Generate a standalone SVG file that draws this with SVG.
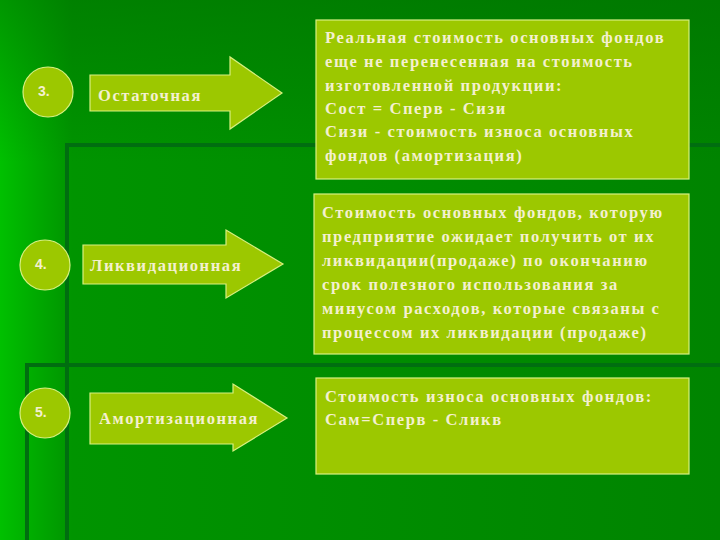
<svg xmlns="http://www.w3.org/2000/svg" width="720" height="540" viewBox="0 0 720 540">
<defs>
<linearGradient id="bg" x1="0" y1="0" x2="1" y2="0">
<stop offset="0" stop-color="#00c000"/><stop offset="0.1" stop-color="#009400"/><stop offset="1" stop-color="#008400"/>
</linearGradient>
<linearGradient id="bgv" x1="0" y1="0" x2="0" y2="1">
<stop offset="0" stop-color="#006e00" stop-opacity="0.5"/><stop offset="0.3" stop-color="#006e00" stop-opacity="0"/>
</linearGradient>
</defs>
<style>
.s{fill:#9cc800;stroke:#d8f080;stroke-width:1.2}
.t{font-family:"Liberation Serif",serif;font-size:16.5px;font-weight:bold;letter-spacing:1.6px;fill:#f4f0d0}
.n{font-family:"Liberation Sans",sans-serif;font-size:14px;font-weight:bold;fill:#f4f0d0}
.l{stroke:#006e10;stroke-width:4;fill:none}
</style>
<rect width="720" height="540" fill="url(#bg)"/>
<rect width="720" height="540" fill="url(#bgv)"/>
<g id="bglines">
<path class="l" d="M67 540V145H720"/>
<path class="l" d="M27 540V365H720"/>
</g>
<g id="n3"><circle class="s" cx="48" cy="92" r="25"/><text class="n" x="38" y="96">3.</text></g>
<g id="n4"><circle class="s" cx="45" cy="265" r="25"/><text class="n" x="35" y="269">4.</text></g>
<g id="n5"><circle class="s" cx="45" cy="413" r="25"/><text class="n" x="35" y="417">5.</text></g>
<g id="a1"><path class="s" d="M90 75H230V57L282 93L230 129V111H90Z"/><text class="t" x="98" y="101">Остаточная</text></g>
<g id="a2"><path class="s" d="M83 245H226V230L283 264L226 298V284H83Z"/><text class="t" x="90" y="271">Ликвидационная</text></g>
<g id="a3"><path class="s" d="M90 393H233V384L287 418L233 451V444H90Z"/><text class="t" x="99" y="424">Амортизационная</text></g>
<g id="b1"><rect class="s" x="316" y="20" width="373" height="159"/>
<text class="t"><tspan x="325" y="43">Реальная стоимость основных фондов</tspan><tspan x="325" y="67">еще не перенесенная на стоимость</tspan><tspan x="325" y="91">изготовленной продукции:</tspan><tspan x="325" y="114">Сост = Сперв - Сизи</tspan><tspan x="325" y="137">Сизи - стоимость износа основных</tspan><tspan x="325" y="161">фондов (амортизация)</tspan></text></g>
<g id="b2"><rect class="s" x="314" y="194" width="375" height="160"/>
<text class="t"><tspan x="322" y="218">Стоимость основных фондов, которую</tspan><tspan x="322" y="242">предприятие ожидает получить от их</tspan><tspan x="322" y="266">ликвидации(продаже) по окончанию</tspan><tspan x="322" y="290">срок полезного использования за</tspan><tspan x="322" y="314">минусом расходов, которые связаны с</tspan><tspan x="322" y="338">процессом их ликвидации (продаже)</tspan></text></g>
<g id="b3"><rect class="s" x="316" y="378" width="373" height="96"/>
<text class="t"><tspan x="325" y="402">Стоимость износа основных фондов:</tspan><tspan x="325" y="425">Сам=Сперв - Сликв</tspan></text></g>
<g id="connectors"></g>
</svg>
